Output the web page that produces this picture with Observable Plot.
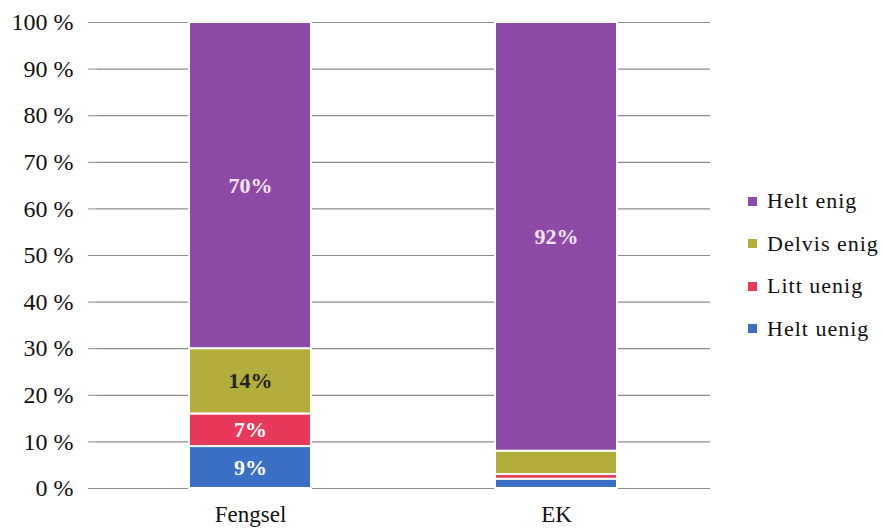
<!DOCTYPE html>
<html>
<head>
<meta charset="utf-8">
<script src="https://cdn.jsdelivr.net/npm/d3@7"></script>
<script src="https://cdn.jsdelivr.net/npm/@observablehq/plot@0.6"></script>
<style>
  body { margin: 0; background: #fff; }
  #wrap { position: relative; width: 885px; height: 529px; font-family: "Liberation Serif", "DejaVu Serif", serif; }
  #legend { position: absolute; left: 748px; top: 180px; }
  .item { display: flex; align-items: center; height: 42.5px; font-size: 22px; letter-spacing: 1px; color: #111; }
  .sw { width: 9px; height: 9px; margin-right: 10px; }
</style>
</head>
<body>
<div id="wrap"></div>
<script>
const categories = ["Fengsel", "EK"];
const series = ["Helt uenig", "Litt uenig", "Delvis enig", "Helt enig"];
const heltUenig = [9, 2];
const littUenig = [7, 1];
const delvisEnig = [14, 5];
const heltEnig = [70, 92];
const colors = ["#3b6fc6", "#e8395b", "#b3ae3b", "#8d4aa6"];
const labelColors = ["#ffffff", "#ffffff", "#222222", "#f3e6f3"];
const yTicks = [0, 10, 20, 30, 40, 50, 60, 70, 80, 90, 100];
const legendOrder = ["Helt enig", "Delvis enig", "Litt uenig", "Helt uenig"];

const seriesValues = [heltUenig, littUenig, delvisEnig, heltEnig];
const data = [];
categories.forEach((c, ci) => {
  series.forEach((s, si) => {
    data.push({ cat: c, series: s, value: seriesValues[si][ci], si });
  });
});

const chart = Plot.plot({
  width: 885,
  height: 529,
  marginLeft: 97,
  marginRight: 175,
  marginTop: 22,
  marginBottom: 41,
  style: { fontFamily: "Liberation Serif, serif", background: "#fff", color: "#111" },
  x: { domain: categories, paddingInner: 0.6, paddingOuter: 0.3, label: null },
  y: { domain: [0, 100], label: null },
  color: { domain: series, range: colors },
  marks: [
    Plot.ruleY(yTicks, { stroke: "#8c8c8c", strokeWidth: 1.2 }),
    Plot.axisY({ ticks: yTicks, tickFormat: d => `${d} %`, tickSize: 9, tickPadding: 15, stroke: "#8c8c8c", fill: "#111", fontSize: 24, label: null }),
    Plot.ruleX([0], { frameAnchor: "left", stroke: "#8c8c8c", strokeWidth: 1.2 }),
    Plot.axisX({ tickSize: 0, tickPadding: 17, fontSize: 23, fill: "#111", letterSpacing: 1.2, label: null }),
    Plot.barY(data, Plot.stackY({ x: "cat", y: "value", fill: "series", order: series, stroke: "#fff", strokeWidth: 2 })),
    Plot.text(data, Plot.stackY({
      x: "cat", y: "value", order: series,
      text: d => d.value >= 7 ? `${d.value}%` : "",
      fill: d => labelColors[d.si],
      fontSize: 22, fontWeight: "bold"
    }))
  ]
});

const wrap = document.getElementById("wrap");
wrap.appendChild(chart);

const legend = document.createElement("div");
legend.id = "legend";
legendOrder.forEach(name => {
  const item = document.createElement("div");
  item.className = "item";
  const sw = document.createElement("span");
  sw.className = "sw";
  sw.style.background = colors[series.indexOf(name)];
  const t = document.createElement("span");
  t.textContent = name;
  item.appendChild(sw);
  item.appendChild(t);
  legend.appendChild(item);
});
wrap.appendChild(legend);
</script>
</body>
</html>
